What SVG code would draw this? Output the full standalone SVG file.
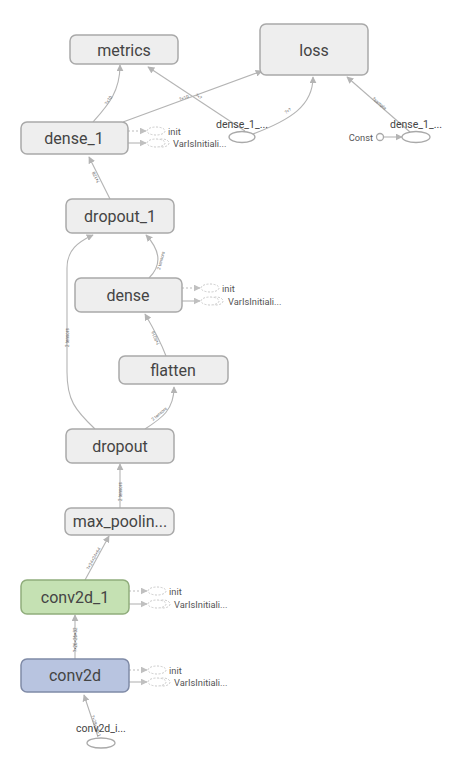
<svg xmlns="http://www.w3.org/2000/svg" width="458" height="763" viewBox="0 0 458 763">
<style>
.node{fill:#eeeeee;stroke:#a9a9a9;stroke-width:1.5}
.lbl{font-family:Roboto,"Liberation Sans",sans-serif;font-size:16px;fill:#444;text-anchor:middle;dominant-baseline:central}
.sm{font-family:Roboto,"Liberation Sans",sans-serif;font-size:9.3px;fill:#555;dominant-baseline:central}
.op{font-family:Roboto,"Liberation Sans",sans-serif;font-size:10.5px;fill:#444;text-anchor:middle}
.e{fill:none;stroke:#b4b4b4;stroke-width:1.1}
.d{fill:none;stroke:#bbbbbb;stroke-width:1;stroke-dasharray:2,2}
.de{fill:#fff;stroke:#c4c4c4;stroke-width:0.9;stroke-dasharray:2,1.5}
.el{font-family:Roboto,"Liberation Sans",sans-serif;font-size:4.5px;fill:#666}
.ov{fill:#fff;stroke:#a9a9a9;stroke-width:1.3}
</style>
<defs>
<marker id="ar" viewBox="0 0 10 10" refX="9" refY="5" markerWidth="7" markerHeight="7" orient="auto" markerUnits="userSpaceOnUse">
<path d="M0,0 L10,5 L0,10 Z" fill="#b4b4b4"/>
</marker>
<marker id="ard" viewBox="0 0 10 10" refX="9" refY="5" markerWidth="7" markerHeight="7" orient="auto" markerUnits="userSpaceOnUse">
<path d="M0,0 L10,5 L0,10 Z" fill="#c0c0c0"/>
</marker>
</defs>

<g id="connectors">
<path class="e" d="M98,737 L84,695" marker-end="url(#ar)"/>
<path class="e" d="M75,659 L75,615" marker-end="url(#ar)"/>
<path class="e" d="M85,580 L109,536" marker-end="url(#ar)"/>
<path class="e" d="M120,508 L120,464" marker-end="url(#ar)"/>
<path class="e" d="M145,429 C162,418 174,410 174,387" marker-end="url(#ar)"/>
<path class="e" d="M95,429 C75,410 67,400 67,372 L67,268 C67,250 78,242 93,235" marker-end="url(#ar)"/>
<path class="e" d="M166,356 C160,340 152,326 145,314" marker-end="url(#ar)"/>
<path class="e" d="M149,278 C162,265 160,250 146,235" marker-end="url(#ar)"/>
<path class="e" d="M110,199 L89,157" marker-end="url(#ar)"/>
<path class="e" d="M93,122 C108,105 120,92 120,65" marker-end="url(#ar)"/>
<path class="e" d="M123,122 L262,71" marker-end="url(#ar)"/>
<path class="e" d="M245,131 L148,67" marker-end="url(#ar)"/>
<path class="e" d="M253,134 C290,120 313,106 313,77" marker-end="url(#ar)"/>
<path class="e" d="M410,132 L347,77" marker-end="url(#ar)"/>
<path class="e" d="M384,137 L402,137" marker-end="url(#ar)"/>
<path class="d" d="M128,131 L146,131" marker-end="url(#ard)"/>
<path class="e" d="M128,143 L146,143" marker-end="url(#ard)"/>
<path class="d" d="M182,288 L200,288" marker-end="url(#ard)"/>
<path class="e" d="M182,301 L200,301" marker-end="url(#ard)"/>
<path class="d" d="M129,591 L147,591" marker-end="url(#ard)"/>
<path class="e" d="M129,604 L147,604" marker-end="url(#ard)"/>
<path class="d" d="M129,670 L147,670" marker-end="url(#ard)"/>
<path class="e" d="M129,682 L147,682" marker-end="url(#ard)"/>
<text class="el" transform="translate(91,716) rotate(71)">?×28×28×1</text>
<text class="el" transform="translate(77,652) rotate(-90)">?×26×26×32</text>
<text class="el" transform="translate(89,570) rotate(-61)">?×24×24×64</text>
<text class="el" transform="translate(122,501) rotate(-90)">2 tensors</text>
<text class="el" transform="translate(153,421) rotate(-40)">2 tensors</text>
<text class="el" transform="translate(69,347) rotate(-90)">2 tensors</text>
<text class="el" transform="translate(160,344) rotate(-115)">?×9216</text>
<text class="el" transform="translate(160,270) rotate(-75)">2 tensors</text>
<text class="el" transform="translate(100,182) rotate(-117)">?×128</text>
<text class="el" transform="translate(107,105) rotate(-55)">?×10</text>
<text class="el" transform="translate(180,101) rotate(-20)">?×10</text>
<text class="el" transform="translate(195,96) rotate(33)">?×?</text>
<text class="el" transform="translate(286,114) rotate(-32)">?×?</text>
<text class="el" transform="translate(372,99) rotate(41)">?sample</text>
</g>

<g id="metrics"><rect class="node" x="70" y="35" width="108" height="29" rx="6"/><text class="lbl" x="124" y="50">metrics</text></g>
<g id="loss"><rect class="node" x="260" y="24" width="108" height="51" rx="6"/><text class="lbl" x="314" y="50">loss</text></g>

<g id="dense_1"><rect class="node" x="21" y="122" width="107" height="32" rx="6"/><text class="lbl" x="74" y="138">dense_1</text></g>
<g id="dense_1_init">
<ellipse class="de" cx="156" cy="131" rx="9" ry="4"/><text class="sm" x="168" y="131">init</text>
<ellipse class="de" cx="162" cy="143" rx="7" ry="4"/><ellipse class="de" cx="156" cy="143" rx="9" ry="4"/><text class="sm" x="173" y="143">VarIsInitiali...</text>
</g>

<g id="dense_1_target"><text class="op" x="242" y="128">dense_1_...</text><ellipse class="ov" cx="242" cy="137" rx="13" ry="5.5"/></g>
<g id="dense_1_sample_weights"><text class="op" x="416" y="128">dense_1_...</text><ellipse class="ov" cx="416" cy="137" rx="14" ry="5.5"/></g>
<g id="const"><text class="sm" x="373" y="137" text-anchor="end">Const</text><circle class="ov" cx="380" cy="137" r="3.5"/></g>

<g id="dropout_1"><rect class="node" x="66" y="199" width="108" height="34" rx="6"/><text class="lbl" x="120" y="216">dropout_1</text></g>

<g id="dense"><rect class="node" x="75" y="278" width="107" height="34" rx="6"/><text class="lbl" x="128" y="295">dense</text></g>
<g id="dense_init">
<ellipse class="de" cx="210" cy="288" rx="9" ry="4"/><text class="sm" x="222" y="288">init</text>
<ellipse class="de" cx="216" cy="301" rx="7" ry="4"/><ellipse class="de" cx="210" cy="301" rx="9" ry="4"/><text class="sm" x="228" y="301">VarIsInitiali...</text>
</g>

<g id="flatten"><rect class="node" x="119" y="356" width="109" height="28" rx="6"/><text class="lbl" x="173" y="370">flatten</text></g>

<g id="dropout"><rect class="node" x="66" y="429" width="108" height="34" rx="6"/><text class="lbl" x="120" y="446">dropout</text></g>

<g id="max_pooling"><rect class="node" x="65" y="508" width="109" height="27" rx="6"/><text class="lbl" x="120" y="521">max_poolin...</text></g>

<g id="conv2d_1"><rect x="21" y="580" width="108" height="34" rx="6" fill="#c5e1b3" stroke="#90ad7c" stroke-width="1.5"/><text class="lbl" x="75" y="597">conv2d_1</text></g>
<g id="conv2d_1_init">
<ellipse class="de" cx="157" cy="591" rx="9" ry="4"/><text class="sm" x="169" y="591">init</text>
<ellipse class="de" cx="163" cy="604" rx="7" ry="4"/><ellipse class="de" cx="157" cy="604" rx="9" ry="4"/><text class="sm" x="174" y="604">VarIsInitiali...</text>
</g>

<g id="conv2d"><rect x="21" y="659" width="108" height="33" rx="6" fill="#b8c4e0" stroke="#7f8aa6" stroke-width="1.5"/><text class="lbl" x="75" y="675">conv2d</text></g>
<g id="conv2d_init">
<ellipse class="de" cx="157" cy="670" rx="9" ry="4"/><text class="sm" x="169" y="670">init</text>
<ellipse class="de" cx="163" cy="682" rx="7" ry="4"/><ellipse class="de" cx="157" cy="682" rx="9" ry="4"/><text class="sm" x="174" y="682">VarIsInitiali...</text>
</g>

<g id="conv2d_input"><text class="op" x="101" y="732">conv2d_i...</text><ellipse class="ov" cx="101" cy="743" rx="14" ry="5"/></g>
</svg>
